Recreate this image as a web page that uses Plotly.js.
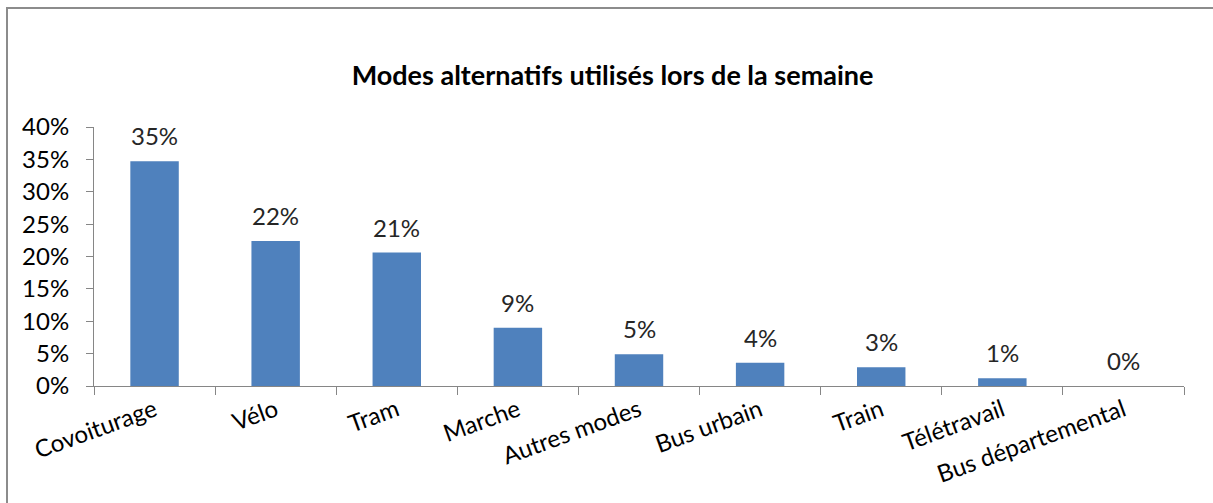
<!DOCTYPE html>
<html>
<head>
<meta charset="utf-8">
<script src="https://cdn.plot.ly/plotly-3.0.1.min.js"></script>
<style>
  html, body { margin: 0; padding: 0; background: #fff; }
  #wrap { position: relative; width: 1213px; height: 503px; overflow: hidden; }
  #chart { width: 1213px; height: 503px; }
  #frame { position: absolute; left: 6px; top: 7px; right: -4px; bottom: -4px;
           border-left: 2px solid #8c8c8c; border-top: 2px solid #8c8c8c; pointer-events: none; }
</style>
</head>
<body>
<div id="wrap">
  <div id="chart"></div>
  <div id="frame"></div>
</div>
<script>
const categories = ["Covoiturage", "Vélo", "Tram", "Marche", "Autres modes", "Bus urbain", "Train", "Télétravail", "Bus départemental"];
const shares = [0.347, 0.224, 0.206, 0.090, 0.049, 0.036, 0.029, 0.012, 0.0];
const yTickVals = [0, 0.05, 0.10, 0.15, 0.20, 0.25, 0.30, 0.35, 0.40];
const yTickText = ["0%", "5%", "10%", "15%", "20%", "25%", "30%", "35%", "40%"];
const chartTitle = "Modes alternatifs utilisés lors de la semaine";

const FONT = "Lato, 'Open Sans', sans-serif";

const trace = {
  type: "bar",
  x: categories,
  y: shares,
  marker: { color: "#4F81BD", line: { width: 0 } },
  width: 0.4,
  cliponaxis: false,
  hoverinfo: "none"
};

const dataLabels = categories.map((c, i) => ({
  x: c,
  y: shares[i],
  xref: "x", yref: "y",
  text: Math.round(shares[i] * 100) + "%",
  showarrow: false,
  yanchor: "bottom",
  yshift: 9,
  font: { family: FONT, size: 24, color: "#262626" }
}));

const layout = {
  width: 1213,
  height: 503,
  margin: { l: 94, r: 29, t: 127, b: 117 },
  paper_bgcolor: "#ffffff",
  plot_bgcolor: "#ffffff",
  showlegend: false,
  title: {
    text: "<b>" + chartTitle + "</b>",
    font: { family: FONT, size: 27, color: "#000" },
    x: 0.505, xanchor: "center",
    y: 0.85, yanchor: "middle"
  },
  xaxis: {
    type: "category",
    tickangle: -20,
    tickfont: { family: FONT, size: 24, color: "#000" },
    showline: true, linecolor: "#868686", linewidth: 1,
    ticks: "outside", ticklen: 8, tickcolor: "#868686",
    tickson: "boundaries",
    showgrid: false, zeroline: false,
    automargin: false,
    fixedrange: true
  },
  yaxis: {
    range: [0, 0.4],
    tickvals: yTickVals,
    ticktext: yTickText,
    tickfont: { family: FONT, size: 24, color: "#000" },
    showline: true, linecolor: "#868686", linewidth: 1,
    ticks: "outside", ticklen: 7, tickcolor: "#868686",
    ticklabelstandoff: 12,
    showgrid: false, zeroline: false,
    automargin: false,
    fixedrange: true
  },
  annotations: dataLabels,
  bargap: 0.6
};

Plotly.newPlot("chart", [trace], layout, { displayModeBar: false, staticPlot: true });
</script>
</body>
</html>
